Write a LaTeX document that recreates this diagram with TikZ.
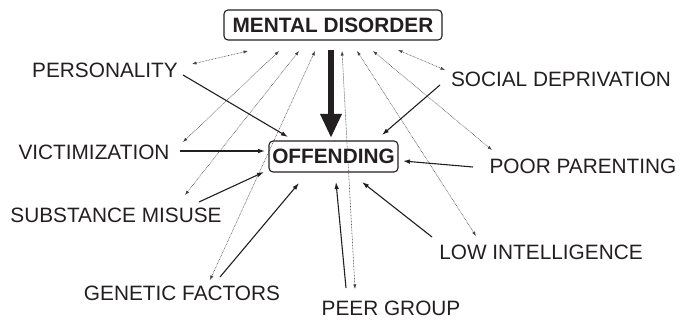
\documentclass[tikz,border=0pt]{standalone}
\usepackage{fontspec}
\setmainfont{Liberation Sans}
\usetikzlibrary{arrows.meta}
\definecolor{ink}{HTML}{231F20}
\begin{document}
\begin{tikzpicture}[x=1pt,y=-1pt,
  lbl/.style={inner sep=0pt,text=ink,font=\fontsize{20.8}{24}\selectfont},
  bx/.style={draw=ink,line width=1.1pt,rounded corners=4pt,inner sep=0pt,text=ink,font=\fontsize{20.8}{24}\selectfont\bfseries},
  dot/.style={draw=ink!85,line width=0.55pt,dash pattern=on 0.7pt off 0.8pt,{Latex[length=4.5pt,width=3.2pt]}-{Latex[length=4.5pt,width=3.2pt]}},
  sol/.style={draw=ink,line width=1.1pt,-{Latex[length=7pt,width=4.6pt]}},
  big/.style={draw=ink,line width=6.5pt,-{Triangle[length=24pt,width=20pt]}}]
\useasboundingbox (0,0) rectangle (681,321);
% boxes
\node[bx,minimum width=218pt,minimum height=30pt] (md) at (333,25) {MENTAL DISORDER};
\node[bx,minimum width=129pt,minimum height=31pt] (off) at (333.5,156.5) {OFFENDING};
% labels
\node[lbl] (pers) at (105,70) {PERSONALITY};
\node[lbl] (vict) at (94,152) {VICTIMIZATION};
\node[lbl] (subs) at (116,215) {SUBSTANCE MISUSE};
\node[lbl] (gen) at (182,293.5) {GENETIC FACTORS};
\node[lbl] (peer) at (391,308) {PEER GROUP};
\node[lbl] (low) at (541,252.5) {LOW INTELLIGENCE};
\node[lbl] (poor) at (583,166.5) {POOR PARENTING};
\node[lbl] (soc) at (561,79.5) {SOCIAL DEPRIVATION};
% dotted ends near mental disorder
\coordinate (m1) at (248,51);
\coordinate (m2) at (279,51);
\coordinate (m3) at (299,51);
\coordinate (m4) at (315,51);
\coordinate (m5) at (342,51);
\coordinate (m6) at (357,51);
\coordinate (m7) at (373,51);
\coordinate (m8) at (398,50);
% dotted ends near labels
\coordinate (d1) at (192,64);
\coordinate (d2) at (183,142);
\coordinate (d3) at (185,195);
\coordinate (d4) at (210,280);
\coordinate (d5) at (355,289);
\coordinate (d6) at (476,236);
\coordinate (d7) at (492,150);
\coordinate (d8) at (445,70);
% solid starts
\coordinate (s1) at (183,75);
\coordinate (s2) at (180,151);
\coordinate (s3) at (199,202);
\coordinate (s4) at (220,277);
\coordinate (s5) at (346,288);
\coordinate (s6) at (432,237);
\coordinate (s7) at (473,167);
\coordinate (s8) at (440,85);
% solid tips at offending
\coordinate (o1) at (288,137);
\coordinate (o2) at (265,151);
\coordinate (o3) at (264,172);
\coordinate (o4) at (299,183);
\coordinate (o5) at (336,182);
\coordinate (o6) at (362,182);
\coordinate (o7) at (403,161);
\coordinate (o8) at (382,135);
% big arrow
\coordinate (bt) at (331,50);
\coordinate (bb) at (331,138);
\draw[big] (bt) -- (bb);
% dotted bidirectional
\foreach \i in {1,...,8} \draw[dot] (d\i) -- (m\i);
% solid arrows
\foreach \i in {1,...,8} \draw[sol] (s\i) -- (o\i);
\end{tikzpicture}
\end{document}
